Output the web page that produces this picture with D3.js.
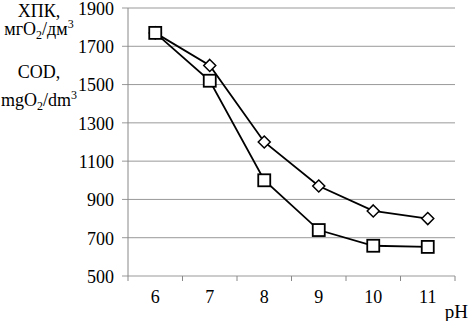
<!DOCTYPE html>
<html>
<head>
<meta charset="utf-8">
<script src="https://cdn.jsdelivr.net/npm/d3@7"></script>
<style>
body { margin: 0; background: #fff; }
</style>
</head>
<body>
<div id="chart-area"></div>
<script>
// data
const phValues = ["6", "7", "8", "9", "10", "11"]
const diamondSeries = [1770, 1600, 1200, 970, 840, 800]
const squareSeries = [1770, 1520, 1000, 740, 658, 652]
const yTicks = [500, 700, 900, 1100, 1300, 1500, 1700, 1900]

const W = 469, H = 321
const MARGIN = { LEFT: 128, RIGHT: 14, TOP: 8, BOTTOM: 45 }
const WIDTH = W - MARGIN.LEFT - MARGIN.RIGHT
const HEIGHT = H - MARGIN.TOP - MARGIN.BOTTOM
const FS = "18px"

const svg = d3.select("#chart-area").append("svg")
	.attr("width", W)
	.attr("height", H)
	.style("font-family", "'Liberation Serif'")

const g = svg.append("g")
	.attr("transform", `translate(${MARGIN.LEFT},${MARGIN.TOP})`)

const x = d3.scaleBand().domain(phValues).range([0, WIDTH])
const y = d3.scaleLinear().domain([500, 1900]).range([HEIGHT, 0])

// gridlines (extend a bit left of the axis as ticks)
g.selectAll("line.grid")
	.data(yTicks)
	.enter().append("line")
	.attr("x1", -6).attr("x2", WIDTH)
	.attr("y1", d => y(d)).attr("y2", d => y(d))
	.attr("stroke", "#999")
	.attr("stroke-width", 1)

// y tick labels
g.selectAll("text.ytick")
	.data(yTicks)
	.enter().append("text")
	.attr("x", -14)
	.attr("y", d => y(d))
	.attr("dy", "0.38em")
	.attr("text-anchor", "end")
	.attr("font-size", FS)
	.text(d => d)

// y axis line
g.append("line")
	.attr("x1", 0).attr("x2", 0)
	.attr("y1", 0).attr("y2", HEIGHT)
	.attr("stroke", "#888")

// x axis ticks at band edges
const edges = phValues.map(d => x(d)).concat([WIDTH])
g.selectAll("line.xtick")
	.data(edges)
	.enter().append("line")
	.attr("x1", d => d).attr("x2", d => d)
	.attr("y1", HEIGHT).attr("y2", HEIGHT + 5)
	.attr("stroke", "#888")

g.selectAll("text.xtick")
	.data(phValues)
	.enter().append("text")
	.attr("x", d => x(d) + x.bandwidth() / 2)
	.attr("y", HEIGHT + 27)
	.attr("text-anchor", "middle")
	.attr("font-size", FS)
	.text(d => d)

// axis titles
svg.append("text").attr("x", 468).attr("y", 318).attr("text-anchor", "end")
	.attr("font-size", "19px").text("pH")

function titleLine(yPos, parts) {
	const t = svg.append("text").attr("x", 39).attr("y", yPos)
		.attr("text-anchor", "middle").attr("font-size", FS)
	parts.forEach(p => {
		const s = t.append("tspan").text(p[0])
		if (p[1] === "sub") s.attr("font-size", "12px").attr("dy", 4)
		if (p[1] === "sup") s.attr("font-size", "12px").attr("dy", -7)
		if (p[1] === "back") s.attr("dy", -4)
	})
}
titleLine(17, [["ХПК,"]])
titleLine(35, [["мгО"], ["2", "sub"], ["/дм", "back"], ["3", "sup"]])
titleLine(78, [["COD,"]])
titleLine(106, [["mgO"], ["2", "sub"], ["/dm", "back"], ["3", "sup"]])

const line = d3.line()
	.x((d, i) => x(phValues[i]) + x.bandwidth() / 2)
	.y(d => y(d))

g.append("path").datum(diamondSeries).attr("d", line)
	.attr("fill", "none").attr("stroke", "#000").attr("stroke-width", 1.8)
g.append("path").datum(squareSeries).attr("d", line)
	.attr("fill", "none").attr("stroke", "#000").attr("stroke-width", 1.8)

// markers
g.selectAll("path.diamond")
	.data(diamondSeries)
	.enter().append("path")
	.attr("d", "M0,-6L6,0L0,6L-6,0Z")
	.attr("transform", (d, i) => `translate(${x(phValues[i]) + x.bandwidth() / 2},${y(d)})`)
	.attr("fill", "#fff").attr("stroke", "#000").attr("stroke-width", 1.5)

g.selectAll("rect.square")
	.data(squareSeries)
	.enter().append("rect")
	.attr("x", (d, i) => x(phValues[i]) + x.bandwidth() / 2 - 6)
	.attr("y", d => y(d) - 6)
	.attr("width", 12).attr("height", 12)
	.attr("fill", "#fff").attr("stroke", "#000").attr("stroke-width", 1.8)
</script>
</body>
</html>
